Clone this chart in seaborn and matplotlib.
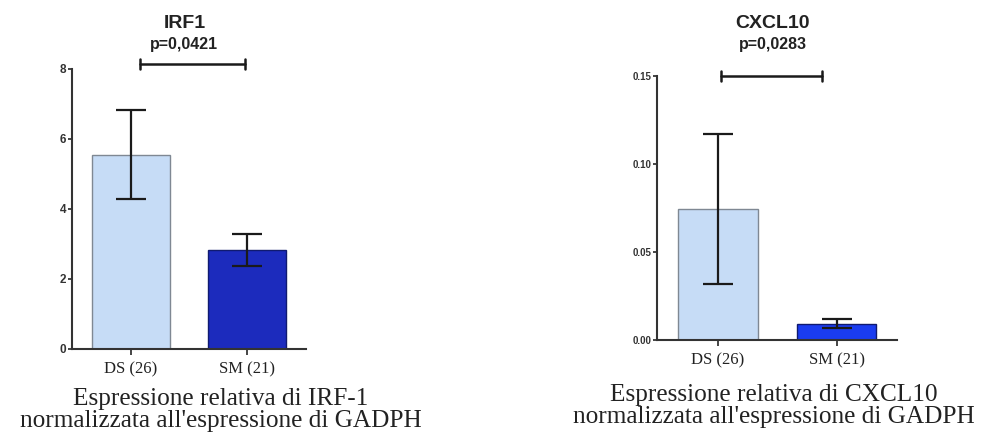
import numpy as np
import pandas as pd
import matplotlib
matplotlib.use("Agg")
import matplotlib.pyplot as plt
import seaborn as sns

sns.set_style("ticks")
plt.rcParams['font.family'] = ['Liberation Sans', 'DejaVu Sans']

# data
groups = ["DS (26)", "SM (21)"]
irf1_mean = [5.55, 2.83]
irf1_low = [4.29, 2.37]
irf1_high = [6.83, 3.29]
cxcl10_mean = [0.0745, 0.0091]
cxcl10_low = [0.0318, 0.0068]
cxcl10_high = [0.117, 0.0119]

panels = [
    dict(title="IRF1", p="p=0,0421", mean=irf1_mean, low=irf1_low, high=irf1_high,
         ymax=8, yticks=[0, 2, 4, 6, 8], fmt="{:g}", ytick_size=8.5,
         colors=["#c6dcf6", "#1c2bbd"], rect=[0.073, 0.209, 0.237, 0.635],
         bracket=(0.08, 0.98, 8.14), lab_xy=(221, 410),
         xlabel="Espressione relativa di IRF-1\nnormalizzata all'espressione di GADPH"),
    dict(title="CXCL10", p="p=0,0283", mean=cxcl10_mean, low=cxcl10_low, high=cxcl10_high,
         ymax=0.15, yticks=[0, 0.05, 0.10, 0.15], fmt="{:.2f}", ytick_size=7,
         colors=["#c6dcf6", "#1a3cf0"], rect=[0.666, 0.229, 0.243, 0.599],
         bracket=(0.03, 0.88, 0.15), lab_xy=(774, 406),
         xlabel="Espressione relativa di CXCL10\nnormalizzata all'espressione di GADPH"),
]

fig = plt.figure(figsize=(9.87, 4.41), dpi=100)

for pn in panels:
    ax = fig.add_axes(pn["rect"])
    df = pd.DataFrame({"group": groups, "value": pn["mean"]})
    sns.barplot(data=df, x="group", y="value", hue="group", palette=pn["colors"],
                saturation=1, width=0.67, edgecolor="#7f8893", linewidth=1.0,
                legend=False, ax=ax)
    ax.patches[1].set_edgecolor("#101a70")
    mean = np.array(pn["mean"])
    yerr = [mean - np.array(pn["low"]), np.array(pn["high"]) - mean]
    ax.errorbar([0, 1], mean, yerr=yerr, fmt="none", ecolor="#1a1a1a",
                elinewidth=1.6, capsize=11, capthick=1.6, zorder=5)

    ax.set_xlim(-0.51, 1.51)
    ax.set_ylim(0, pn["ymax"])
    ax.set_yticks(pn["yticks"])
    ax.set_yticklabels([pn["fmt"].format(v) for v in pn["yticks"]],
                       fontsize=pn["ytick_size"], fontweight="bold", color="#333333")
    ax.set_xticks([0, 1])
    ax.set_xticklabels(groups, fontsize=12, family="Liberation Serif", color="#222222")
    ax.tick_params(axis="y", length=3, width=1.2, pad=1)
    ax.tick_params(axis="x", length=4, width=1.2, pad=5)
    ax.set_xlabel("")
    ax.set_ylabel("")
    for s in ["left", "bottom"]:
        ax.spines[s].set_linewidth(1.5)
        ax.spines[s].set_color("#333333")
    sns.despine(ax=ax)

    # significance bracket
    x0, x1, yb = pn["bracket"]
    ax.plot([x0, x1], [yb, yb], color="#1a1a1a", lw=1.8, clip_on=False)
    dy = pn["ymax"] * 0.018
    for xx in (x0, x1):
        ax.plot([xx, xx], [yb - dy, yb + dy], color="#1a1a1a", lw=1.8, clip_on=False)

    cx = pn["rect"][0] + pn["rect"][2] * 0.48
    fig.text(cx, 1 - 23 / 441, pn["title"], ha="center", va="center",
             fontsize=14, fontweight="bold", color="#222222")
    fig.text(cx, 1 - 45 / 441, pn["p"], ha="center", va="center",
             fontsize=11.5, fontweight="bold", color="#222222")

    lx, ly = pn["lab_xy"]
    fig.text(lx / 987, 1 - ly / 441, pn["xlabel"], ha="center", va="center",
             fontsize=18.2, family="Liberation Serif", color="#222222", linespacing=0.95)

fig.savefig("out.png", dpi=100, facecolor="white")
